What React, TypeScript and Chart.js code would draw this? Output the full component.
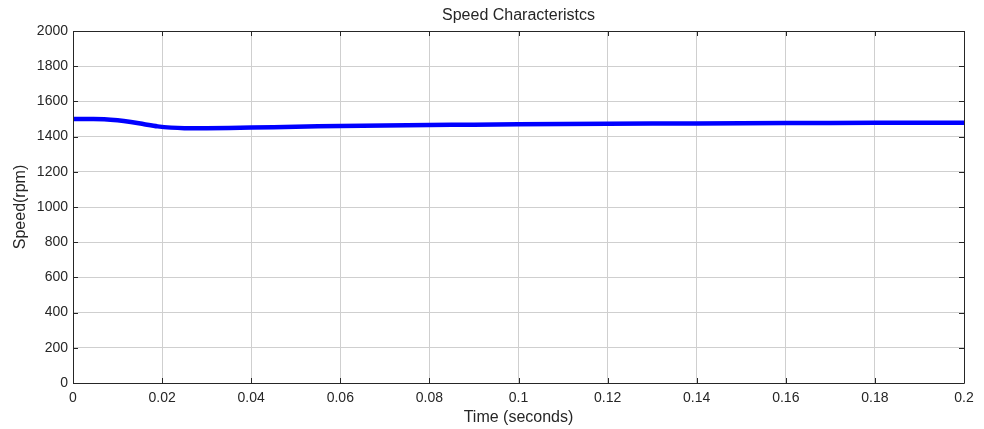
import React, { useEffect, useRef } from "react";
import { Chart, registerables } from "chart.js";

Chart.register(...registerables);

// Rotor speed response over the simulation window
const timeSeconds = [0, 0.004, 0.007, 0.01, 0.013, 0.016, 0.019, 0.022, 0.025, 0.03, 0.04, 0.05, 0.06, 0.07, 0.08, 0.09, 0.1, 0.12, 0.14, 0.16, 0.18, 0.2];
const speedRpm = [1500, 1500, 1499, 1493, 1483, 1470, 1458, 1451, 1448, 1448, 1451, 1456, 1460, 1463, 1466, 1468, 1470, 1473, 1475, 1477, 1478, 1479];

const xTicks = [0, 0.02, 0.04, 0.06, 0.08, 0.1, 0.12, 0.14, 0.16, 0.18, 0.2];
const yTicks = [0, 200, 400, 600, 800, 1000, 1200, 1400, 1600, 1800, 2000];

const chartTitle = "Speed Characteristcs";
const xTitle = "Time (seconds)";
const yTitle = "Speed(rpm)";

const FONT = "'Liberation Sans', Arial, Helvetica, sans-serif";
const TEXT = "#262626";

// Frame, inward tick marks and titles in the style of a MATLAB axes box
const framePlugin = {
  id: "frame",
  afterDraw(chart: any) {
    const { ctx, chartArea } = chart;
    const { left, right, top, bottom } = chartArea;
    const xs = chart.scales.x;
    const ys = chart.scales.y;
    ctx.save();
    ctx.strokeStyle = "#262626";
    ctx.lineWidth = 1;
    const tl = 5;
    ctx.beginPath();
    for (const v of xTicks) {
      const px = Math.round(xs.getPixelForValue(v)) + 0.5;
      ctx.moveTo(px, bottom);
      ctx.lineTo(px, bottom - tl);
      ctx.moveTo(px, top);
      ctx.lineTo(px, top + tl);
    }
    for (const v of yTicks) {
      const py = Math.round(ys.getPixelForValue(v)) + 0.5;
      ctx.moveTo(left, py);
      ctx.lineTo(left + tl, py);
      ctx.moveTo(right, py);
      ctx.lineTo(right - tl, py);
    }
    ctx.stroke();
    ctx.beginPath();
    ctx.rect(Math.round(left) + 0.5, Math.round(top) + 0.5, Math.round(right - left), Math.round(bottom - top));
    ctx.stroke();

    ctx.fillStyle = TEXT;
    ctx.textAlign = "center";
    ctx.textBaseline = "middle";
    ctx.font = `16px ${FONT}`;
    const cx = (left + right) / 2;
    ctx.fillText(chartTitle, cx, 16);
    ctx.fillText(xTitle, cx, 418);
    ctx.translate(21, (top + bottom) / 2);
    ctx.rotate(-Math.PI / 2);
    ctx.fillText(yTitle, 0, 0);
    ctx.restore();
  },
};

export default function App() {
  const canvasRef = useRef<HTMLCanvasElement | null>(null);

  useEffect(() => {
    if (!canvasRef.current) return;
    const chart = new Chart(canvasRef.current, {
      type: "line",
      data: {
        datasets: [
          {
            data: timeSeconds.map((t, i) => ({ x: t, y: speedRpm[i] })),
            borderColor: "#0000ff",
            borderWidth: 4.5,
            pointRadius: 0,
            tension: 0.3,
            fill: false,
          },
        ],
      },
      options: {
        animation: false,
        responsive: false,
        maintainAspectRatio: false,
        layout: { padding: { top: 31, right: 20, left: 0, bottom: 0 } },
        plugins: {
          legend: { display: false },
          title: { display: false },
          tooltip: { enabled: false },
        },
        scales: {
          x: {
            type: "linear",
            min: 0,
            max: 0.2,
            afterFit(scale: any) {
              scale.height = 46;
            },
            afterBuildTicks(scale: any) {
              scale.ticks = xTicks.map((v) => ({ value: v }));
            },
            grid: { color: "#cfcfcf", lineWidth: 1, drawTicks: false },
            border: { display: false },
            ticks: {
              padding: 7,
              color: TEXT,
              font: { family: FONT, size: 14 },
              maxRotation: 0,
              callback: (v: any) => String(Number(Number(v).toFixed(3))),
            },
          },
          y: {
            type: "linear",
            min: 0,
            max: 2000,
            afterFit(scale: any) {
              scale.width = 73;
            },
            afterBuildTicks(scale: any) {
              scale.ticks = yTicks.map((v) => ({ value: v }));
            },
            grid: { color: "#cfcfcf", lineWidth: 1, drawTicks: false },
            border: { display: false },
            ticks: {
              padding: 5,
              color: TEXT,
              font: { family: FONT, size: 14 },
              callback: (v: any) => String(v),
            },
          },
        },
      },
      plugins: [framePlugin],
    });
    return () => chart.destroy();
  }, []);

  return (
    <div style={{ position: "fixed", left: 0, top: 0, width: 984, height: 429, background: "#fff" }}>
      <canvas ref={canvasRef} width={984} height={429} style={{ display: "block", width: 984, height: 429 }} />
    </div>
  );
}
